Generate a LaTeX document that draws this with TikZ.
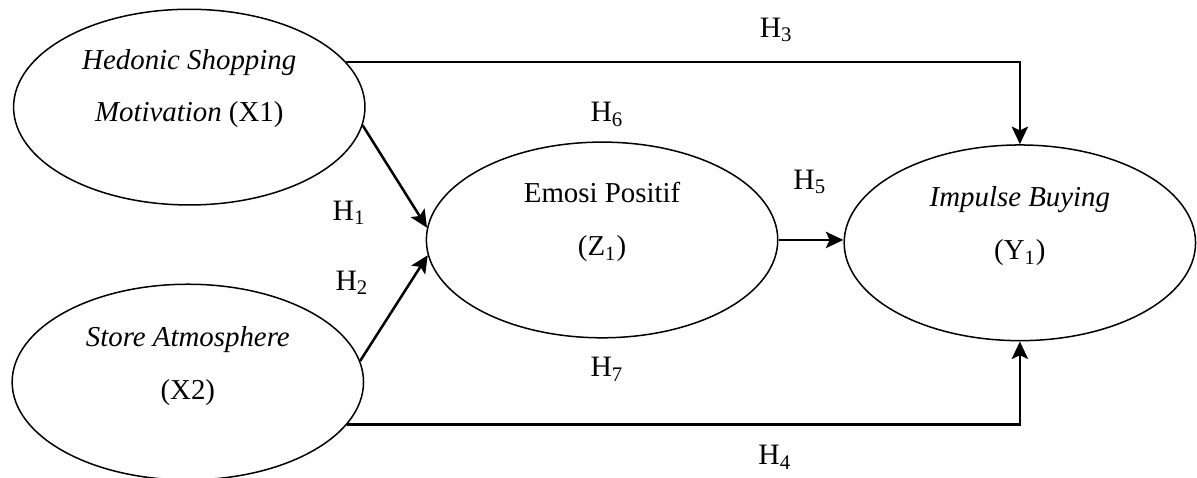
\documentclass[tikz,border=0pt]{standalone}
\usepackage{fontspec}
\setmainfont{Liberation Serif}
\usetikzlibrary{arrows.meta,calc,positioning,shapes.geometric}
\definecolor{Ink}{HTML}{000000}
\tikzset{
  construct/.style={
    ellipse, draw=Ink, line width=0.6pt, inner sep=0pt,
    minimum width=4.92cm, minimum height=2.74cm
  },
  caption/.style={align=center, font=\fontsize{11.5}{21}\selectfont},
  hyp/.style={font=\fontsize{11.8}{14}\selectfont},
  link/.style={-{Stealth[length=7pt,width=6.5pt,inset=1.5pt]}, line width=1pt, draw=Ink}
}

\begin{document}
\begin{tikzpicture}[x=1cm,y=1cm]
    \useasboundingbox (0,0) rectangle (16.76,6.68);
    \node[construct] (x1) at (2.65,5.18) {};
    \node[construct] (x2) at (2.63,1.33) {};
    \node[construct] (z1) at (8.43,3.32) {};
    \node[construct] (y1) at (14.28,3.28) {};
    \node[caption] (x1t) at ([yshift=0.26cm]x1.center) {\textit{Hedonic Shopping}\\\textit{Motivation} (X1)};
    \node[caption] (x2t) at ([yshift=0.22cm]x2.center) {\textit{Store Atmosphere}\\(X2)};
    \node[caption] (z1t) at ([yshift=0.25cm]z1.center) {Emosi Positif\\(Z\textsubscript{1})};
    \node[caption] (y1t) at ([yshift=0.23cm]y1.center) {\textit{Impulse Buying}\\(Y\textsubscript{1})};
    \draw[link] (x1.-6) -- (z1.176);
    \draw[link] (x2.7) -- (z1.185);
    \draw[link] (x1.16) -| (y1.north);
    \draw[link] (x2.-15) -| (y1.south);
    \draw[link] (z1.east) -- (z1.east -| y1.west);
    \node[hyp] (h1) at (4.89,3.70) {H\textsubscript{1}};
    \node[hyp] (h2) at (4.93,2.72) {H\textsubscript{2}};
    \node[hyp] (h3) at (10.87,6.26) {H\textsubscript{3}};
    \node[hyp] (h4) at (10.85,0.28) {H\textsubscript{4}};
    \node[hyp] (h5) at (11.34,4.13) {H\textsubscript{5}};
    \node[hyp] (h6) at (8.50,5.08) {H\textsubscript{6}};
    \node[hyp] (h7) at (8.50,1.51) {H\textsubscript{7}};
  \end{tikzpicture}
\end{document}
